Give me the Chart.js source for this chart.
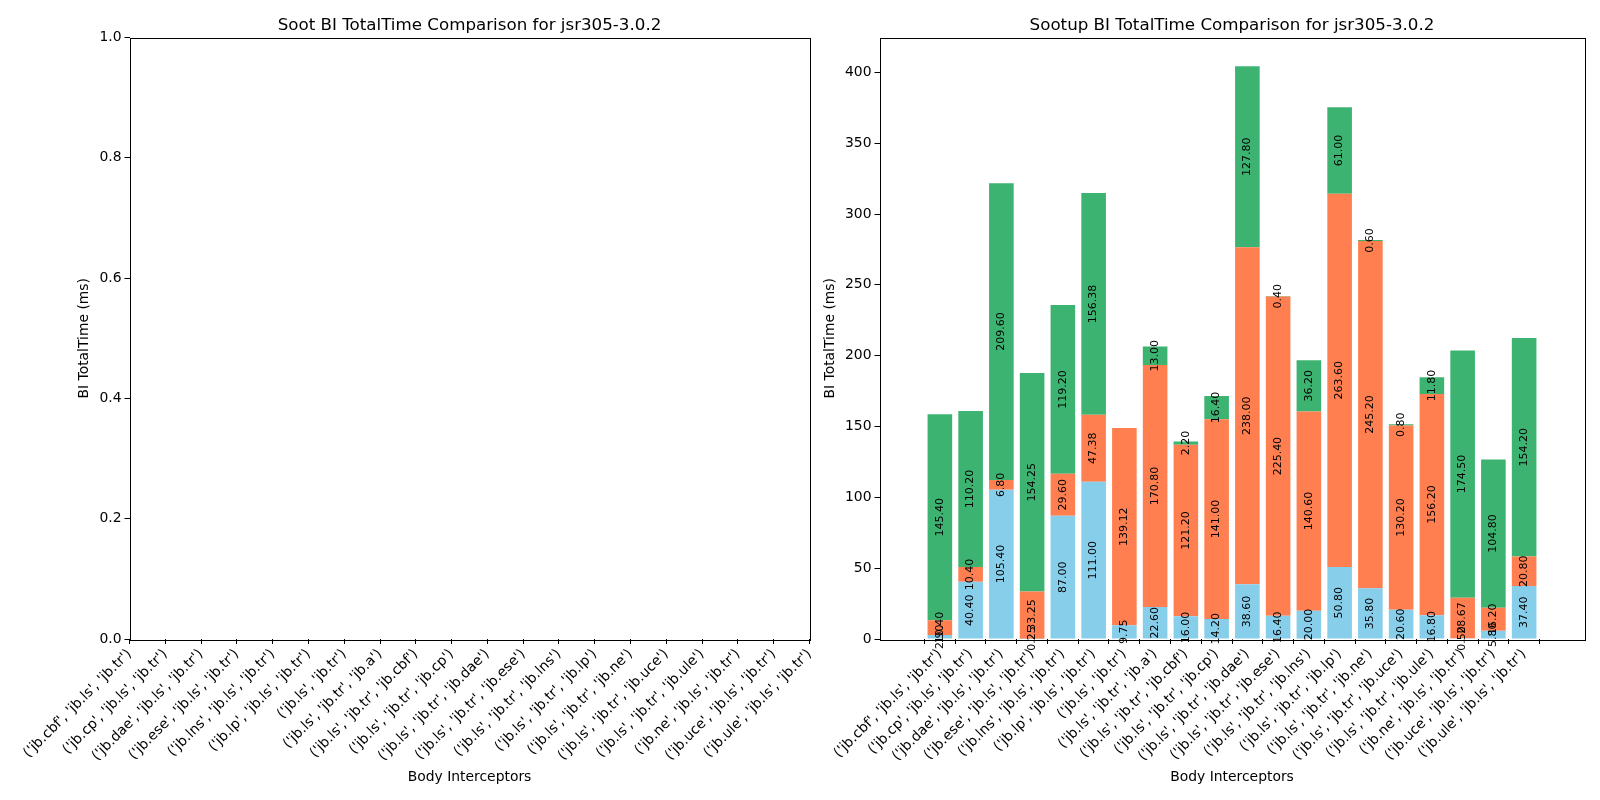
<!DOCTYPE html>
<html>
<head>
<meta charset="utf-8">
<script src="https://cdn.jsdelivr.net/npm/chart.js@4.4.1/dist/chart.umd.min.js"></script>
<style>
  html, body { margin: 0; padding: 0; background: #fff; width: 1600px; height: 800px; overflow: hidden; }
  #wrap { position: relative; width: 1600px; height: 800px; overflow: hidden; }
  .panel { position: absolute; top: 0; height: 800px; }
  canvas { display: block; }
</style>
</head>
<body>
<div id="wrap">
  <div class="panel" style="left:0;width:840px"><canvas id="soot_chart" width="840" height="800"></canvas></div>
  <div class="panel" style="left:800px;width:800px"><canvas id="sootup_chart" width="800" height="800"></canvas></div>
</div>
<script>
var categories = [
    "('jb.cbf', 'jb.ls', 'jb.tr')", "('jb.cp', 'jb.ls', 'jb.tr')", "('jb.dae', 'jb.ls', 'jb.tr')",
    "('jb.ese', 'jb.ls', 'jb.tr')", "('jb.lns', 'jb.ls', 'jb.tr')", "('jb.lp', 'jb.ls', 'jb.tr')",
    "('jb.ls', 'jb.tr')", "('jb.ls', 'jb.tr', 'jb.a')", "('jb.ls', 'jb.tr', 'jb.cbf')",
    "('jb.ls', 'jb.tr', 'jb.cp')", "('jb.ls', 'jb.tr', 'jb.dae')", "('jb.ls', 'jb.tr', 'jb.ese')",
    "('jb.ls', 'jb.tr', 'jb.lns')", "('jb.ls', 'jb.tr', 'jb.lp')", "('jb.ls', 'jb.tr', 'jb.ne')",
    "('jb.ls', 'jb.tr', 'jb.uce')", "('jb.ls', 'jb.tr', 'jb.ule')", "('jb.ne', 'jb.ls', 'jb.tr')",
    "('jb.uce', 'jb.ls', 'jb.tr')", "('jb.ule', 'jb.ls', 'jb.tr')"
];
var blueVals = [2.90, 40.40, 105.40, 0.25, 87.00, 111.00, 9.75, 22.60, 16.00, 14.20,
                38.60, 16.40, 20.00, 50.80, 35.80, 20.60, 16.80, 0.50, 5.80, 37.40];
var orangeVals = [10.40, 10.40, 6.80, 33.25, 29.60, 47.38, 139.12, 170.80, 121.20, 141.00,
                  238.00, 225.40, 140.60, 263.60, 245.20, 130.20, 156.20, 28.67, 16.20, 20.80];
var greenVals = [145.40, 110.20, 209.60, 154.25, 119.20, 156.38, 0, 13.00, 2.20, 16.40,
                 127.80, 0.40, 36.20, 61.00, 0.60, 0.80, 11.80, 174.50, 104.80, 154.20];
var sootTicks = [0, 0.2, 0.4, 0.6, 0.8, 1.0];

var FONT = "'DejaVu Sans', sans-serif";
Chart.defaults.font.family = FONT;
Chart.defaults.color = '#000';

// black box round the plot area, like matplotlib spines
var framePlugin = {
    id: 'frame',
    afterDraw: function (chart) {
        var a = chart.chartArea, ctx = chart.ctx;
        ctx.save();
        ctx.strokeStyle = '#000';
        ctx.lineWidth = 1;
        ctx.strokeRect(Math.round(a.left) + 0.5, Math.round(a.top) + 0.5,
                       Math.round(a.right - a.left), Math.round(a.bottom - a.top));
        ctx.restore();
    }
};

// title centred over the plot area (matplotlib style), not over the canvas
var axesTitle = {
    id: 'axesTitle',
    afterDraw: function (chart, args, opts) {
        var a = chart.chartArea, ctx = chart.ctx;
        ctx.save();
        ctx.font = '16.7px ' + FONT;
        ctx.fillStyle = '#000';
        ctx.textAlign = 'center';
        ctx.textBaseline = 'alphabetic';
        ctx.fillText(opts.text, (a.left + a.right) / 2, a.top - 8);
        ctx.restore();
    }
};

// value written vertically in the middle of every segment
var segLabels = {
    id: 'segLabels',
    afterDatasetsDraw: function (chart) {
        var ctx = chart.ctx;
        ctx.save();
        ctx.font = '11px ' + FONT;
        ctx.fillStyle = '#000';
        ctx.textAlign = 'center';
        ctx.textBaseline = 'middle';
        chart.data.datasets.forEach(function (ds, di) {
            chart.getDatasetMeta(di).data.forEach(function (bar, i) {
                var v = ds.data[i].y;
                if (!v) return;
                ctx.save();
                ctx.translate(bar.x, (bar.y + bar.base) / 2);
                ctx.rotate(-Math.PI / 2);
                ctx.fillText(v.toFixed(2), 0, 0);
                ctx.restore();
            });
        });
        ctx.restore();
    }
};

function xAxisCommon() {
    return {
        grid: { drawOnChartArea: false, drawTicks: true, tickLength: 5, color: '#000' },
        border: { display: false },
        ticks: { autoSkip: false, minRotation: 45, maxRotation: 45, padding: 2, font: { size: 13.9 } },
        title: { display: true, text: 'Body Interceptors', font: { size: 13.9 }, padding: { top: 0, bottom: 14 } },
        afterFit: function (scale) {
            scale.height = 161;
            scale.paddingLeft = 0;
            scale.paddingRight = 0;
        }
    };
}

function yAxisCommon(width, titlePad) {
    return {
        grid: { drawOnChartArea: false, drawTicks: true, tickLength: 5, color: '#000' },
        border: { display: false },
        ticks: { padding: 3, font: { size: 13.9 } },
        title: { display: true, text: 'BI TotalTime (ms)', font: { size: 13.9 }, padding: { top: titlePad, bottom: 0 } },
        afterFit: function (scale) { scale.width = width; }
    };
}

// left panel: empty axes
var sx = xAxisCommon();
sx.type = 'category';
sx.offset = false;
sx.grid.offset = false;
var sy = yAxisCommon(129.5, 76);
sy.min = 0;
sy.max = 1;
sy.afterBuildTicks = function (scale) {
    scale.ticks = sootTicks.map(function (v) { return { value: v }; });
};
sy.ticks.callback = function (v) { return Number(v).toFixed(1); };

new Chart(document.getElementById('soot_chart').getContext('2d'), {
    type: 'line',
    data: { labels: categories, datasets: [] },
    options: {
        responsive: false,
        animation: false,
        devicePixelRatio: 1,
        layout: { padding: { left: 0, right: 30.5, top: 37.5, bottom: 0 } },
        plugins: { legend: { display: false }, tooltip: { enabled: false }, title: { display: false },
                   axesTitle: { text: 'Soot BI TotalTime Comparison for jsr305-3.0.2' } },
        scales: { x: sx, y: sy }
    },
    plugins: [framePlugin, axesTitle]
});

// right panel: stacked bars
function points(vals) {
    return vals.map(function (v, i) { return { x: i, y: v }; });
}
var totals = categories.map(function (c, i) { return blueVals[i] + orangeVals[i] + greenVals[i]; });
var yTop = Math.max.apply(null, totals) * 1.05;
var xPad = (categories.length - 1 + 0.8) * 0.05;

var bx = xAxisCommon();
bx.type = 'linear';
bx.stacked = true;
bx.min = -0.4 - xPad;
bx.max = categories.length - 1 + 0.4 + xPad;
bx.afterBuildTicks = function (scale) {
    scale.ticks = categories.map(function (c, i) { return { value: i }; });
};
bx.ticks.callback = function (v) { return categories[v]; };

var by = yAxisCommon(79.5, 22);
by.stacked = true;
by.min = 0;
by.max = yTop;
by.ticks.stepSize = 50;
by.ticks.includeBounds = false;
by.afterBuildTicks = function (scale) {
    scale.ticks = scale.ticks.filter(function (t) { return t.value % 50 === 0; });
};

var barOpts = { categoryPercentage: 1.0, barPercentage: 0.8, borderWidth: 0 };
new Chart(document.getElementById('sootup_chart').getContext('2d'), {
    type: 'bar',
    data: {
        datasets: [
            Object.assign({ label: 'blue', data: points(blueVals), backgroundColor: '#87CEEB' }, barOpts),
            Object.assign({ label: 'orange', data: points(orangeVals), backgroundColor: '#FF7F50' }, barOpts),
            Object.assign({ label: 'green', data: points(greenVals), backgroundColor: '#3CB371' }, barOpts)
        ]
    },
    options: {
        responsive: false,
        animation: false,
        devicePixelRatio: 1,
        layout: { padding: { left: 0, right: 15.5, top: 37.5, bottom: 0 } },
        plugins: { legend: { display: false }, tooltip: { enabled: false }, title: { display: false },
                   axesTitle: { text: 'Sootup BI TotalTime Comparison for jsr305-3.0.2' } },
        scales: { x: bx, y: by }
    },
    plugins: [framePlugin, segLabels, axesTitle]
});
</script>
</body>
</html>
